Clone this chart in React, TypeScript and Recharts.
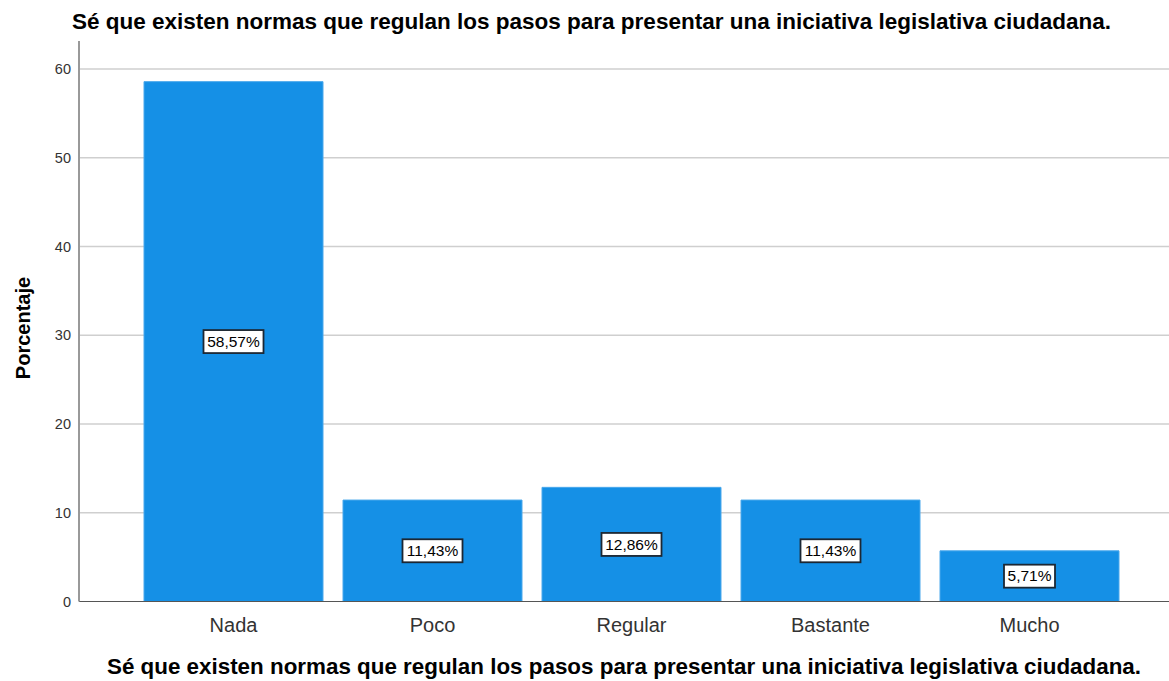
import React from "react";
import { BarChart, Bar, XAxis, YAxis, CartesianGrid, LabelList } from "recharts";

const categories = ["Nada", "Poco", "Regular", "Bastante", "Mucho"];
const percentages = [58.57, 11.43, 12.86, 11.43, 5.71];
const yTicks = [0, 10, 20, 30, 40, 50, 60];
const gridValues = [10, 20, 30, 40, 50, 60];
const title = "Sé que existen normas que regulan los pasos para presentar una iniciativa legislativa ciudadana.";
const yTitle = "Porcentaje";

const data = categories.map((c, i) => ({ name: c, value: percentages[i] }));

const fmt = (v: number) => v.toFixed(2).replace(".", ",") + "%";

const BoxLabel = (props: any) => {
  const { x, y, width, height, value } = props;
  const cx = x + width / 2;
  const cy = y + height / 2;
  const text = fmt(value);
  const w = text.length * 9 + 6;
  const h = 23;
  return (
    <g>
      <rect x={cx - w / 2} y={cy - h / 2} width={w} height={h} fill="#ffffff" stroke="#1c2733" strokeWidth={1.8} />
      <text x={cx} y={cy + 1} textAnchor="middle" dominantBaseline="middle" fontSize={15.5} fill="#000" fontFamily="'Liberation Sans', Arial, sans-serif">
        {text}
      </text>
    </g>
  );
};

export default function App() {
  return (
    <div style={{ position: "absolute", left: 0, top: 0, width: 1169, height: 681, overflow: "hidden", background: "#fff", fontFamily: "'Liberation Sans', Arial, sans-serif" }}>
      <div style={{ position: "absolute", left: 0, top: 9, width: 1169, boxSizing: "border-box", paddingLeft: 14, textAlign: "center", fontSize: 22.5, lineHeight: "26px", fontWeight: "bold", color: "#000", whiteSpace: "nowrap" }}>
        {title}
      </div>
      <div style={{ position: "absolute", left: 0, top: 654, width: 1169, boxSizing: "border-box", paddingLeft: 79, textAlign: "center", fontSize: 22.4, lineHeight: "26px", fontWeight: "bold", color: "#000", whiteSpace: "nowrap" }}>
        {title}
      </div>
      <div style={{ position: "absolute", left: 23, top: 328, transform: "translate(-50%, -50%) rotate(-90deg)", fontSize: 20, fontWeight: "bold", color: "#000", whiteSpace: "nowrap" }}>
        {yTitle}
      </div>
      <div style={{ position: "absolute", left: 0, top: 0 }}>
        <BarChart width={1180} height={681} data={data} margin={{ top: 41, right: 0, left: 0, bottom: 40 }} barSize={179}>
          <CartesianGrid vertical={false} horizontalValues={gridValues} stroke="#cfcfcf" strokeWidth={1.5} />
          <XAxis
            dataKey="name"
            padding={{ left: 55, right: 51 }}
            axisLine={{ stroke: "#555", strokeWidth: 1.2 }}
            tickLine={false}
            height={39.5}
            tickMargin={10}
            tick={{ fontSize: 20, fill: "#333", fontFamily: "'Liberation Sans', Arial, sans-serif" }}
            interval={0}
          />
          <YAxis
            domain={[0, 63.15]}
            ticks={yTicks}
            width={79}
            axisLine={{ stroke: "#999", strokeWidth: 2 }}
            tickLine={false}
            tickMargin={2}
            tick={{ fontSize: 14.5, fill: "#333", fontFamily: "'Liberation Sans', Arial, sans-serif" }}
            allowDataOverflow
          />
          <Bar dataKey="value" fill="#1590e6" stroke="#4aa8ec" strokeWidth={1} isAnimationActive={false}>
            <LabelList dataKey="value" content={BoxLabel} />
          </Bar>
        </BarChart>
      </div>
    </div>
  );
}
